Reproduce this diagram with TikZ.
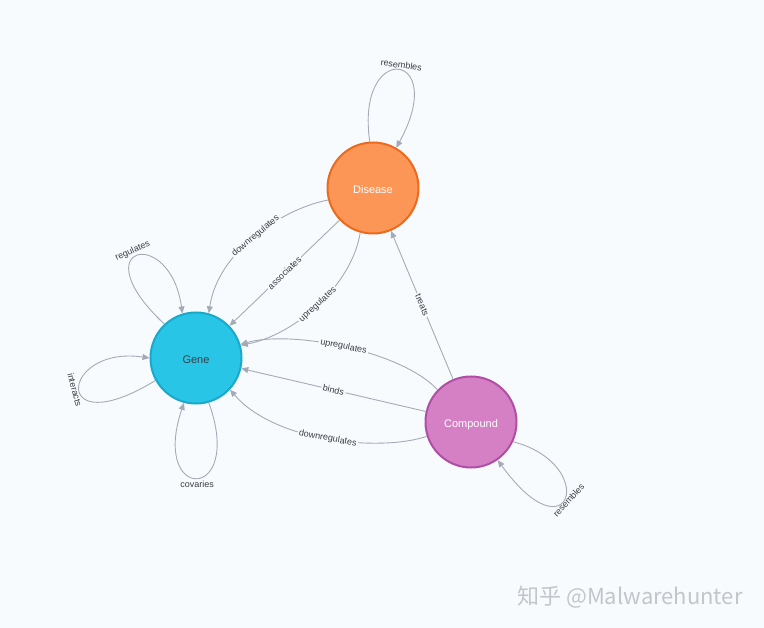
\documentclass[tikz,border=0pt]{standalone}
\usepackage{fontspec}
\setmainfont{Liberation Sans}
\newfontfamily\cjk{Noto Sans CJK SC}
\usetikzlibrary{arrows.meta}
\definecolor{bg}{HTML}{F8FBFE}
\definecolor{edgec}{HTML}{A5ABB6}
\definecolor{lblc}{HTML}{3A3D44}
\definecolor{disfill}{HTML}{FC9657}
\definecolor{disdraw}{HTML}{EC6A1C}
\definecolor{genefill}{HTML}{29C5E6}
\definecolor{genedraw}{HTML}{1AA9CA}
\definecolor{compfill}{HTML}{D580C5}
\definecolor{compdraw}{HTML}{B04EA5}
\definecolor{wmc}{HTML}{C2C6CB}
\begin{document}
\begin{tikzpicture}[x=1pt,y=-1pt,
  ent/.style={circle, minimum size=91pt, line width=2pt, inner sep=0pt,
    text height=12pt, text depth=0pt,
    font=\fontsize{11}{13}\selectfont},
  rel/.style={draw=edgec, line width=0.9pt, -{Triangle[length=7pt,width=6pt]}},
  lbl/.style={font=\fontsize{9}{10}\selectfont, text=lblc, fill=bg, inner sep=1.5pt},
  looplbl/.style={font=\fontsize{9}{10}\selectfont, text=lblc, inner sep=1pt}]
\useasboundingbox[fill=bg] (0,0) rectangle (764,628);

\node[ent, fill=disfill, draw=disdraw, text=white] (dis) at (373,188) {Disease};
\node[ent, fill=genefill, draw=genedraw, text=lblc] (gene) at (196,358) {Gene};
\node[ent, fill=compfill, draw=compdraw, text=white] (comp) at (471,422) {Compound};

% Disease -> Gene
\draw[rel] (dis.195) .. controls (285,208) and (218,250) .. node[lbl,sloped]{downregulates} (gene.74);
\draw[rel] (dis) -- node[lbl,sloped]{associates} (gene);
\draw[rel] (dis.254) .. controls (352,285) and (295,335) .. node[lbl,sloped]{upregulates} (gene.16);

% Compound -> Gene
\draw[rel] (comp.136) .. controls (400,350) and (290,330) .. node[lbl,sloped]{upregulates} (gene.17);
\draw[rel] (comp) -- node[lbl,sloped]{binds} (gene);
\draw[rel] (comp.198) .. controls (380,452) and (275,442) .. node[lbl,sloped]{downregulates} (gene.317);

% Compound -> Disease
\draw[rel] (comp) -- node[lbl,sloped]{treats} (dis);

% self loops
\draw[rel] (dis.94) .. controls (355,40) and (450,50) .. node[looplbl,pos=0.5,xshift=3pt,rotate=-8,anchor=south]{resembles} (dis.60);
\draw[rel] (gene.133) .. controls (80,245) and (170,225) .. node[looplbl,pos=0.5,xshift=-2pt,rotate=25,anchor=south]{regulates} (gene.107);
\draw[rel] (gene.209) .. controls (50,445) and (60,345) .. node[looplbl,pos=0.5,rotate=-75,anchor=north]{interacts} (gene.180);
\draw[rel] (gene.286) .. controls (245,503) and (150,503) .. node[looplbl,pos=0.5,anchor=north,yshift=-2pt]{covaries} (gene.255);
\draw[rel] (comp.335) .. controls (600,465) and (570,560) .. node[looplbl,pos=0.5,rotate=48,anchor=north]{resembles} (comp.305);

% watermark
\node[text=wmc, font=\fontsize{22}{26}\selectfont] (wm) at (630,597) {\cjk 知乎 @Malwarehunter};
\end{tikzpicture}
\end{document}
